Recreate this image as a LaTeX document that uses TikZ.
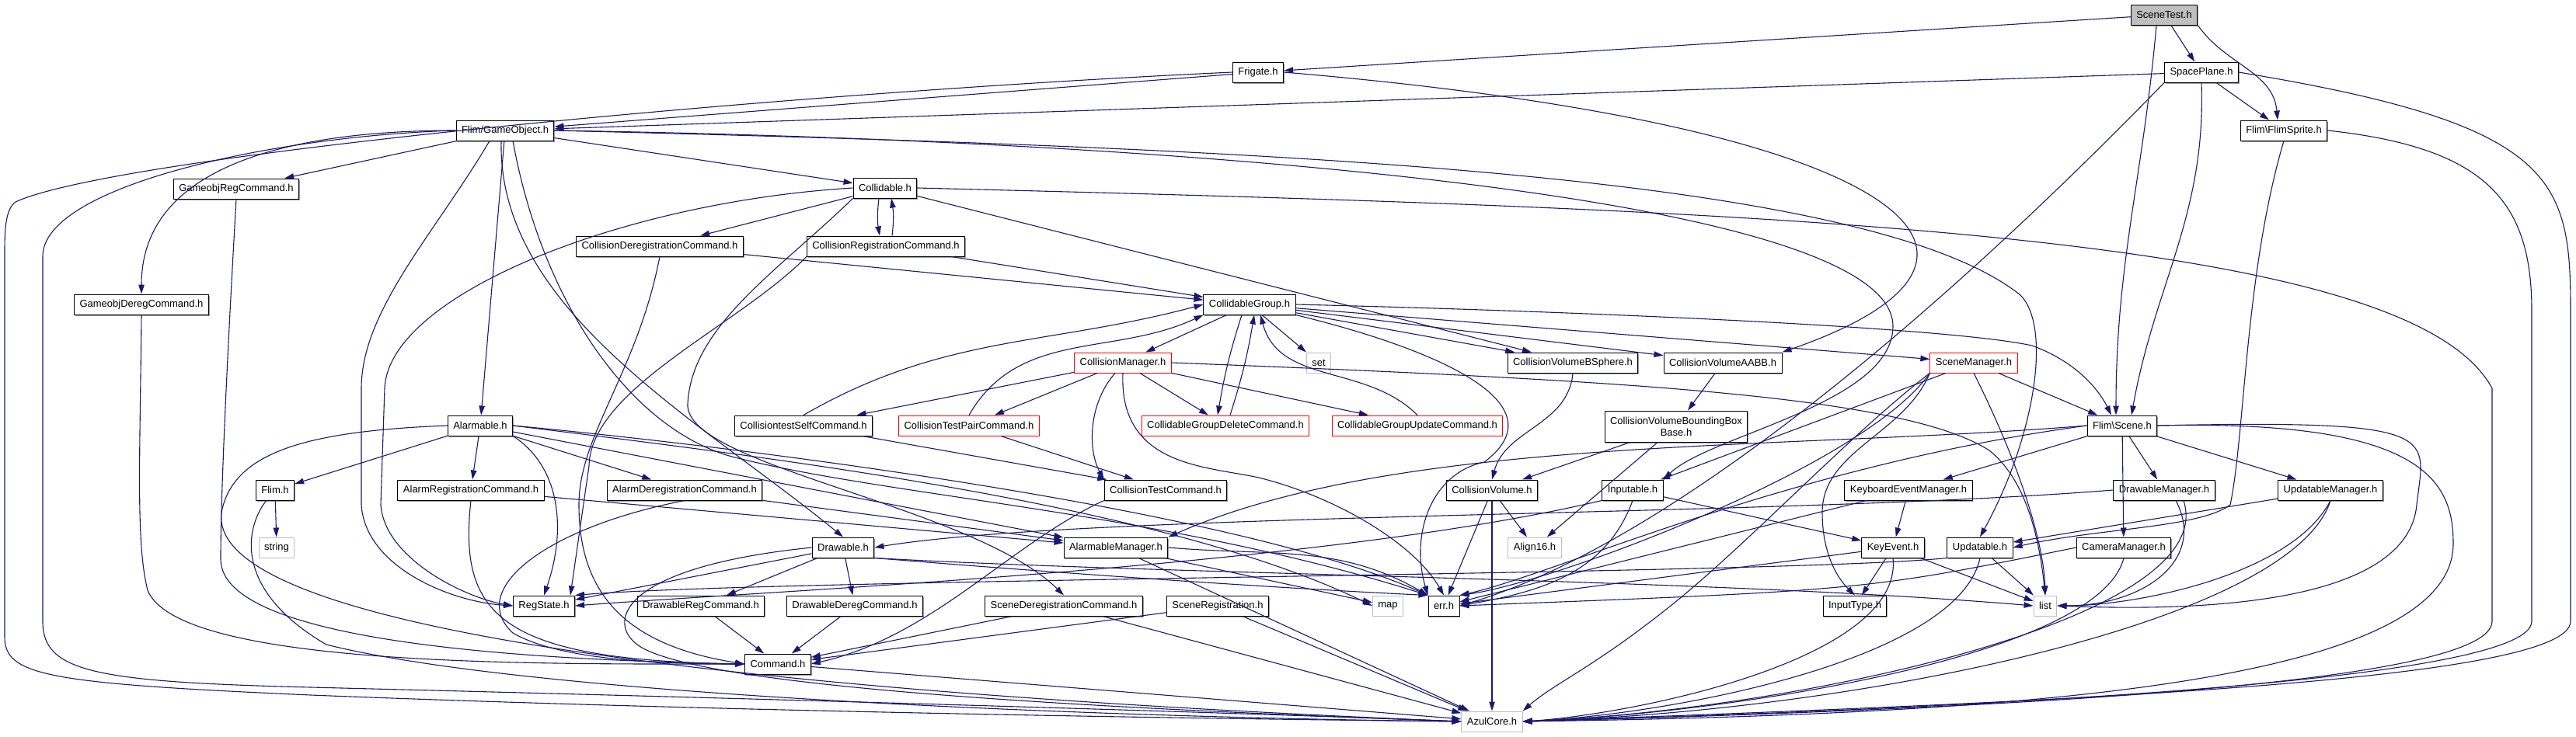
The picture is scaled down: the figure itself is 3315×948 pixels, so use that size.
\documentclass[tikz,border=0pt]{standalone}
\usepackage{fontspec}
\setmainfont{Liberation Sans}
\usetikzlibrary{arrows.meta, shadows}
\definecolor{depblue}{RGB}{25,25,112}
\definecolor{trunred}{RGB}{255,0,0}
\definecolor{sysgray}{RGB}{191,191,191}

\begin{document}
\begin{tikzpicture}[
    x=1pt, y=-1pt,
    box/.style={
        rectangle, fill=white,
        line width=1pt,
        minimum height=26pt,
        inner xsep=7pt, inner ysep=2pt,
        font=\fontsize{13}{15}\selectfont
    },
    hdr/.style={box, draw=black,
        drop shadow={shadow xshift=1.3pt, shadow yshift=-1.5pt,
                     fill=gray!80, opacity=1}},
    redhdr/.style={box, draw=trunred},
    syshdr/.style={box, draw=sysgray},
    roothdr/.style={hdr, fill=sysgray},
    dep/.style={draw=depblue, line width=1.1pt,
        -{Triangle[length=12pt, width=7.5pt]}}
]
\useasboundingbox (0,0) rectangle (3315,948);

% rows of the include graph
\node[roothdr] (scenetest)  at (2785,19)  {SceneTest.h};
\node[hdr]  (frigate)       at (1619,93)  {Frigate.h};
\node[hdr]  (spaceplane)    at (2833,93)  {SpacePlane.h};
\node[hdr]  (gameobject)    at (650,168)  {Flim/GameObject.h};
\node[hdr]  (flimsprite)    at (2939,168) {Flim\textbackslash FlimSprite.h};
\node[hdr]  (collidable)    at (1139,242) {Collidable.h};
\node[hdr]  (goregcmd)      at (304,243)  {GameobjRegCommand.h};
\node[hdr]  (colderegcmd)   at (849,317)  {CollisionDeregistrationCommand.h};
\node[hdr]  (colregcmd)     at (1140,317) {CollisionRegistrationCommand.h};
\node[hdr]  (goderegcmd)    at (182,392)  {GameobjDeregCommand.h};
\node[hdr]  (colgroup)      at (1608,392) {CollidableGroup.h};
\node[redhdr] (colmgr)      at (1445,467) {CollisionManager.h};
\node[syshdr] (set)         at (1697,467) {set};
\node[hdr]  (bsphere)       at (2024,467) {CollisionVolumeBSphere.h};
\node[hdr]  (aabb)          at (2217,467) {CollisionVolumeAABB.h};
\node[redhdr] (scenemgr)    at (2540,467) {SceneManager.h};
\node[hdr]  (alarmable)     at (618,548)  {Alarmable.h};
\node[hdr]  (coltestself)   at (1034,548) {CollisiontestSelfCommand.h};
\node[redhdr] (coltestpair) at (1247,548) {CollisionTestPairCommand.h};
\node[redhdr] (cgdelete)    at (1577,548) {CollidableGroupDeleteCommand.h};
\node[redhdr] (cgupdate)    at (1824,548) {CollidableGroupUpdateCommand.h};
\node[hdr, align=center, minimum height=40pt]
            (bboxbase)      at (2157,549) {CollisionVolumeBoundingBox\\Base.h};
\node[hdr]  (scene)         at (2731,548) {Flim\textbackslash Scene.h};
\node[hdr]  (flim)          at (354,631)  {Flim.h};
\node[hdr]  (alarmregcmd)   at (606,631)  {AlarmRegistrationCommand.h};
\node[hdr]  (alarmderegcmd) at (881,631)  {AlarmDeregistrationCommand.h};
\node[hdr]  (coltestcmd)    at (1500,631) {CollisionTestCommand.h};
\node[hdr]  (colvolume)     at (1920,631) {CollisionVolume.h};
\node[hdr]  (inputable)     at (2101,631) {Inputable.h};
\node[hdr]  (kbmgr)         at (2456,631) {KeyboardEventManager.h};
\node[hdr]  (drawmgr)       at (2785,631) {DrawableManager.h};
\node[hdr]  (updmgr)        at (2999,631) {UpdatableManager.h};
\node[syshdr] (string)      at (356,705)  {string};
\node[hdr]  (drawable)      at (1085,705) {Drawable.h};
\node[hdr]  (alarmmgr)      at (1436,705) {AlarmableManager.h};
\node[syshdr] (align16)     at (1975,705) {Align16.h};
\node[hdr]  (keyevent)      at (2436,705) {KeyEvent.h};
\node[hdr]  (updatable)     at (2548,705) {Updatable.h};
\node[hdr]  (cameramgr)     at (2733,705) {CameraManager.h};
\node[hdr]  (regstate)      at (700,780)  {RegState.h};
\node[hdr]  (drawregcmd)    at (902,780)  {DrawableRegCommand.h};
\node[hdr]  (drawderegcmd)  at (1100,780) {DrawableDeregCommand.h};
\node[hdr]  (scenederegcmd) at (1369,780) {SceneDeregistrationCommand.h};
\node[hdr]  (sceneregcmd)   at (1567,780) {SceneRegistration.h};
\node[syshdr] (map)         at (1786,780) {map};
\node[hdr]  (err)           at (1858,780) {err.h};
\node[hdr]  (inputtype)     at (2387,780) {InputType.h};
\node[syshdr] (list)        at (2632,780) {list};
\node[hdr]  (command)       at (1001,855) {Command.h};
\node[syshdr] (azulcore)    at (1920,929) {AzulCore.h};

% short includes
\foreach \a/\b in {scenetest/frigate, scenetest/spaceplane,
                   frigate/gameobject, spaceplane/gameobject,
                   spaceplane/flimsprite, gameobject/goregcmd,
                   gameobject/collidable, gameobject/alarmable,
                   collidable/colderegcmd, collidable/bsphere,
                   colderegcmd/colgroup, colregcmd/colgroup,
                   colgroup/colmgr, colgroup/set, colgroup/bsphere,
                   colgroup/aabb, colgroup/scenemgr,
                   colmgr/coltestself, colmgr/coltestpair,
                   colmgr/cgdelete, colmgr/cgupdate,
                   coltestself/coltestcmd, coltestpair/coltestcmd,
                   aabb/bboxbase, bboxbase/colvolume, bboxbase/align16,
                   colvolume/align16, colvolume/err, colvolume/azulcore,
                   scenemgr/scene, scenemgr/inputable,
                   scene/kbmgr, scene/drawmgr, scene/updmgr, scene/cameramgr,
                   alarmable/flim, alarmable/alarmregcmd,
                   alarmable/alarmderegcmd, alarmable/alarmmgr,
                   flim/string, alarmregcmd/alarmmgr, alarmderegcmd/alarmmgr,
                   alarmmgr/map, alarmmgr/azulcore,
                   drawable/regstate, drawable/drawregcmd,
                   drawable/drawderegcmd,
                   drawregcmd/command, drawderegcmd/command,
                   scenederegcmd/command, sceneregcmd/command,
                   scenederegcmd/azulcore, sceneregcmd/azulcore,
                   command/azulcore,
                   inputable/keyevent, kbmgr/keyevent, kbmgr/err,
                   keyevent/inputtype, keyevent/list, keyevent/err,
                   updatable/list, updmgr/updatable}{
    \draw[dep] (\a) -- (\b);
}

% back edges of the cycles
\draw[dep] ([xshift=-8pt]collidable.south) to[bend right=8] ([xshift=-8pt]colregcmd.north);
\draw[dep] ([xshift=8pt]colregcmd.north) to[bend right=8] ([xshift=8pt]collidable.south);
\draw[dep] ([xshift=-10pt]colgroup.south) to[bend right=4] ([xshift=-10pt]cgdelete.north);
\draw[dep] ([xshift=6pt]cgdelete.north) to[bend right=4] ([xshift=6pt]colgroup.south);
\draw[dep] (cgupdate.north) to[out=135,in=-75] ([xshift=14pt]colgroup.south);
\draw[dep] (coltestself.north) to[out=30,in=195] (colgroup.west);
\draw[dep] (coltestpair.north) to[out=60,in=205] (colgroup.south west);

% long includes
\draw[dep] ([xshift=-10pt]scenetest.south) to[out=-95,in=90] ([xshift=-8pt]scene.north);
\draw[dep] (scenetest.south east) to[out=-55,in=95] ([xshift=-8pt]flimsprite.north);
\draw[dep] (spaceplane.south) to[out=-88,in=80] ([xshift=12pt]scene.north);
\draw[dep] (spaceplane.south west) .. controls (2500,400) and (2150,700) .. (err.east);
\draw[dep] (spaceplane.east) .. controls (3290,160) and (3308,230) .. (3308,400)
    -- (3308,800) .. controls (3308,880) and (2600,905) .. (azulcore.east);
\draw[dep] (flimsprite.east) .. controls (3200,190) and (3258,260) .. (3258,400)
    -- (3258,800) .. controls (3258,875) and (2600,910) .. (azulcore.east);
\draw[dep] (flimsprite.south) .. controls (2889,350) and (2889,560) .. (2870,650)
    .. controls (2830,680) and (2700,680) .. (updatable.east);
\draw[dep] (frigate.east) .. controls (2450,160) and (2650,330) .. (aabb.north east);
\draw[dep] (frigate.west) .. controls (1000,120) and (150,200) .. (20,260)
    .. controls (6,270) and (6,300) .. (6,330) -- (6,820)
    .. controls (6,870) and (60,880) .. (400,895)
    .. controls (900,915) and (1500,925) .. (azulcore.west);
\draw[dep] (gameobject.west) .. controls (350,175) and (55,240) .. (55,330)
    -- (55,800) .. controls (55,865) and (120,878) .. (400,885)
    .. controls (1000,900) and (1600,918) .. (azulcore.west);
\draw[dep] (gameobject.west) to[out=180,in=90] (goderegcmd.north);
\draw[dep] ([xshift=-20pt]gameobject.south) .. controls (560,300) and (465,400) .. (465,500)
    -- (465,650) .. controls (470,730) and (580,775) .. (regstate.west);
\draw[dep] ([xshift=-5pt]gameobject.south) .. controls (640,400) and (900,540) .. (drawable.north);
\draw[dep] ([xshift=10pt]gameobject.south) .. controls (700,400) and (820,560) .. (950,590)
    .. controls (1150,640) and (1500,660) .. (err.north west);
\draw[dep] (gameobject.east) .. controls (1600,190) and (2400,220) .. (2600,380)
    .. controls (2640,420) and (2620,560) .. (updatable.north);
\draw[dep] (gameobject.east) .. controls (1500,180) and (2436,250) .. (2436,420)
    .. controls (2436,520) and (2200,560) .. (inputable.north east);
\draw[dep] (goregcmd.south) .. controls (290,500) and (284,650) .. (284,720)
    .. controls (284,830) and (700,850) .. (command.west);
\draw[dep] (goderegcmd.south) .. controls (180,600) and (175,700) .. (190,760)
    .. controls (230,860) and (700,855) .. (command.west);
\draw[dep] (collidable.west) .. controls (800,260) and (500,380) .. (495,500)
    -- (490,650) .. controls (495,720) and (600,770) .. (regstate.west);
\draw[dep] (collidable.south west) .. controls (1000,350) and (890,420) .. (885,520)
    .. controls (880,600) and (1250,650) .. (scenederegcmd.north);
\draw[dep] (collidable.east) .. controls (2300,270) and (3100,300) .. (3207,500)
    -- (3207,800) .. controls (3207,880) and (2600,912) .. (azulcore.east);
\draw[dep] (colderegcmd.south) .. controls (820,480) and (745,560) .. (745,650)
    .. controls (745,760) and (800,830) .. (command.west);
\draw[dep] (colregcmd.south west) .. controls (950,420) and (760,500) .. (758,600)
    -- ([xshift=-6pt]regstate.north east);
\draw[dep] (colgroup.east) .. controls (2000,400) and (2500,420) .. (2615,445)
    .. controls (2670,465) and (2700,500) .. ([xshift=-14pt]scene.north);
\draw[dep] (colgroup.south east) .. controls (1850,450) and (2010,520) .. (1910,595)
    .. controls (1840,610) and (1815,690) .. (err.north west);
\draw[dep] ([xshift=-10pt]colmgr.south) .. controls (1400,520) and (1400,580) .. (coltestcmd.north west);
\draw[dep] (colmgr.south) .. controls (1440,600) and (1550,600) .. (1620,615)
    .. controls (1720,640) and (1820,700) .. (err.north);
\draw[dep] (colmgr.east) .. controls (2100,490) and (2450,510) .. (2560,580)
    .. controls (2610,620) and (2625,700) .. (list.north);
\draw[dep] (coltestcmd.south west) .. controls (1300,700) and (1200,820) .. (command.east);
\draw[dep] (bsphere.south) to[out=-95,in=75] (colvolume.north);
\draw[dep] (scenemgr.south west) .. controls (2450,560) and (2345,580) .. (2345,660)
    .. controls (2345,720) and (2370,750) .. (inputtype.north);
\draw[dep] (scenemgr.south) .. controls (2600,600) and (2630,700) .. (list.north);
\draw[dep] (scenemgr.south west) .. controls (2400,600) and (2000,750) .. (err.north east);
\draw[dep] (scenemgr.south west) .. controls (2380,560) and (2250,700) .. (2150,780)
    .. controls (2050,860) and (2000,880) .. (azulcore.north east);
\draw[dep] (scene.west) .. controls (2300,580) and (1800,560) .. (alarmmgr.north east);
\draw[dep] (scene.west) .. controls (2300,600) and (2000,740) .. (err.north east);
\draw[dep] (scene.east) .. controls (3150,540) and (3120,560) .. (3110,650)
    .. controls (3100,760) and (2900,790) .. (list.east);
\draw[dep] (scene.east) .. controls (3120,540) and (3157,620) .. (3157,700)
    .. controls (3157,880) and (2600,920) .. (azulcore.east);
\draw[dep] (alarmable.south east) .. controls (720,600) and (730,680) .. (regstate.north);
\draw[dep] (alarmable.west) .. controls (400,555) and (300,580) .. (285,660)
    .. controls (270,780) and (700,880) .. (azulcore.west);
\draw[dep] (alarmable.east) .. controls (1000,590) and (1500,650) .. (map.west);
\draw[dep] (alarmable.east) .. controls (1000,580) and (1600,660) .. (err.north west);
\draw[dep] (flim.230) .. controls (315,680) and (300,760) .. (420,830)
    .. controls (700,900) and (1500,925) .. (azulcore.west);
\draw[dep] (alarmregcmd.south) .. controls (590,790) and (640,850) .. (command.west);
\draw[dep] (alarmderegcmd.south) .. controls (700,680) and (600,760) .. (660,815)
    .. controls (720,850) and (850,855) .. (command.west);
\draw[dep] (alarmmgr.east) to[out=-5,in=150] (err.north west);
\draw[dep] (drawable.west) .. controls (800,730) and (780,800) .. (820,830)
    .. controls (900,890) and (1500,915) .. (azulcore.west);
\draw[dep] (drawable.south east) .. controls (1500,740) and (2200,745) .. (list.west);
\draw[dep] (drawable.south east) .. controls (1450,745) and (1700,760) .. (err.north west);
\draw[dep] (inputable.south west) .. controls (1700,730) and (1000,760) .. (regstate.east);
\draw[dep] (inputable.south) to[out=-110,in=10] (err.east);
\draw[dep] (updatable.south west) .. controls (2300,740) and (1000,745) .. (regstate.north east);
\draw[dep] (updatable.south) .. controls (2520,850) and (2150,920) .. (azulcore.east);
\draw[dep] (keyevent.south) .. controls (2450,850) and (2100,920) .. (azulcore.east);
\draw[dep] (drawmgr.west) .. controls (2300,665) and (1400,660) .. (drawable.east);
\draw[dep] ([xshift=15pt]drawmgr.south) .. controls (2840,720) and (2760,780) .. (list.east);
\draw[dep] ([xshift=25pt]drawmgr.south) .. controls (2860,800) and (2300,915) .. (azulcore.east);
\draw[dep] (updmgr.south) .. controls (2950,740) and (2750,780) .. (list.east);
\draw[dep] (updmgr.south) .. controls (2950,800) and (2400,915) .. (azulcore.east);
\draw[dep] (cameramgr.west) .. controls (2400,760) .. (err.east);
\draw[dep] (cameramgr.south) .. controls (2700,850) and (2200,920) .. (azulcore.east);
\end{tikzpicture}
\end{document}
